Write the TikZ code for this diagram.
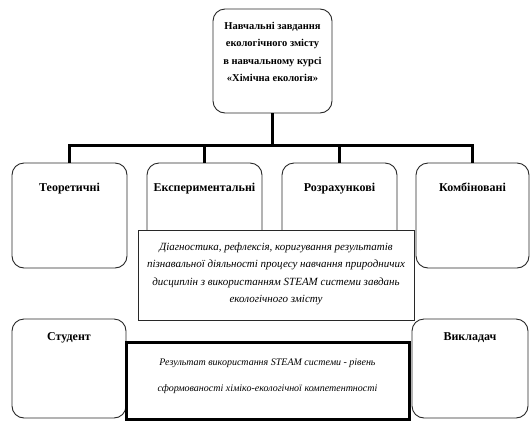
\documentclass[tikz,border=0pt]{standalone}
\usepackage{fontspec}
\setmainfont{Liberation Serif}
\usetikzlibrary{positioning, calc}
\definecolor{mydark}{RGB}{40,40,40}
\tikzset{
  taskbox/.style={rectangle, draw=mydark, fill=white, rounded corners=12pt,
    line width=0.9pt, minimum width=115pt, minimum height=105pt, inner sep=0pt},
  plainbox/.style={rectangle, draw=mydark, fill=white, line width=0.8pt, inner sep=0pt},
  thickbox/.style={rectangle, draw=black, fill=white, line width=3pt, inner sep=0pt},
  head/.style={font=\fontsize{12}{14}\selectfont\bfseries, inner sep=0pt, anchor=base},
  note/.style={align=center, inner sep=0pt},
  line/.style={line width=3pt, color=black}
}

\begin{document}
\begin{tikzpicture}[x=1pt, y=-1pt]
  \useasboundingbox (0,0) rectangle (530,421);

  % --- Top box ---
  \node[taskbox, minimum width=119pt, minimum height=104pt] (goal) at (272.5,61) {};
  \node[note, font=\fontsize{10.5}{17.5}\selectfont\bfseries] (goaltext) at (272.5,52)
    {Навчальні завдання\\ екологічного змісту\\ в навчальному курсі\\ «Хімічна екологія»};

  % --- Task types ---
  \node[taskbox] (teor) at (69.5,215.5) {};
  \node[taskbox] (eksp) at (204.5,215.5) {};
  \node[taskbox] (rozr) at (339.5,215.5) {};
  \node[taskbox, minimum width=113pt] (kombi) at (472.5,215.5) {};
  \node[head] (teortext) at (69.5,191) {Теоретичні};
  \node[head] (eksptext) at (204.5,191) {Експериментальні};
  \node[head] (rozrtext) at (339.5,191) {Розрахункові};
  \node[head] (kombitext) at (472.5,191) {Комбіновані};

  \coordinate (bar) at (0,145);
  \draw[line] (goal.south) -- (goal.south |- bar);
  \draw[line] (teor.north) |- (kombi.north |- bar) -- (kombi.north);
  \draw[line] (eksp.north) -- (eksp.north |- bar);
  \draw[line] (rozr.north) -- (rozr.north |- bar);

  % --- Diagnostics ---
  \node[plainbox, minimum width=276pt, minimum height=90pt] (diag) at (276,275) {};
  \node[note, font=\fontsize{11}{17.5}\selectfont\itshape] (diagtext) at (276,274)
    {Діагностика, рефлексія, коригування результатів\\
     пізнавальної діяльності процесу навчання природничих\\
     дисциплін з використанням STEAM системи завдань\\
     екологічного змісту};

  % --- Student / teacher ---
  \node[taskbox, minimum width=114pt, minimum height=99pt] (stud) at (69,368.5) {};
  \node[taskbox, minimum width=116pt, minimum height=99pt] (vykl) at (470,368.5) {};
  \node[head] (studtext) at (69,340) {Студент};
  \node[head] (vykltext) at (470,340) {Викладач};

  \node[thickbox, minimum width=283pt, minimum height=77pt] (result) at (267.5,380.5) {};
  \node[note, font=\fontsize{10}{26}\selectfont\itshape] (resulttext) at (267.5,376)
    {Результат використання STEAM системи - рівень\\
     сформованості хіміко-екологічної компетентності};
\end{tikzpicture}
\end{document}
